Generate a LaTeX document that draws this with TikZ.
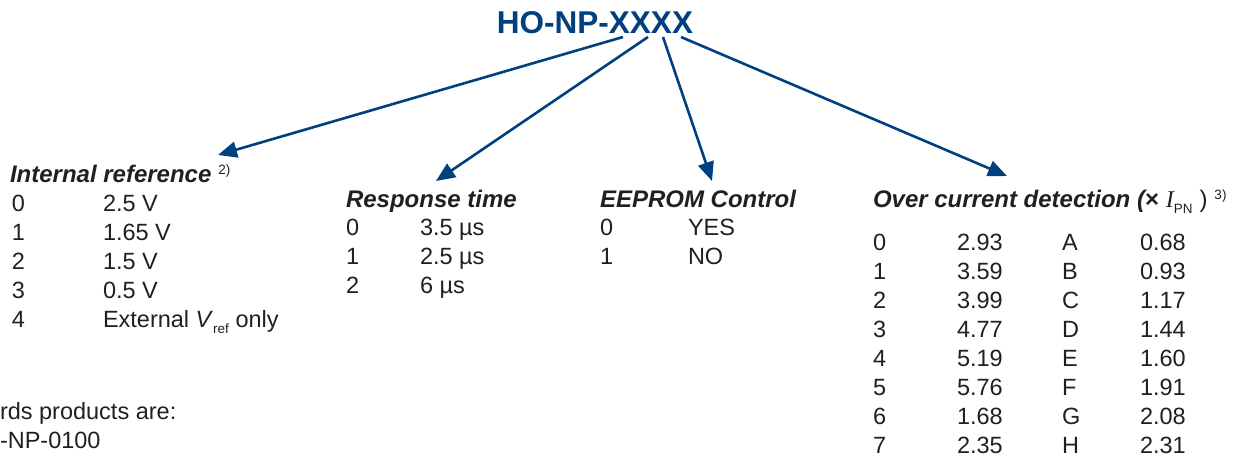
\documentclass[tikz,border=0pt]{standalone}
\usepackage{fontspec}
\setmainfont{Liberation Sans}
\newfontfamily\serifI{Liberation Serif}
\usetikzlibrary{arrows.meta}
\definecolor{lemblue}{HTML}{00407F}
\definecolor{txt}{HTML}{231F20}
\tikzset{
  t/.style={anchor=base west, inner sep=0pt, outer sep=0pt, text=txt, font=\fontsize{23.5}{27}\selectfont},
  hd/.style={t, font=\fontsize{24}{27}\selectfont\bfseries\itshape},
  conn/.style={draw=lemblue, line width=2.6pt, -{Triangle[length=19pt, width=16pt]}},
}
\newcommand{\supnote}[1]{\raisebox{8pt}{\fontsize{13.5}{15}\selectfont\mdseries\upshape #1}}
\newcommand{\subnote}[1]{\raisebox{-6pt}{\fontsize{13.5}{15}\selectfont\mdseries\upshape #1}}
\begin{document}
\begin{tikzpicture}[x=1pt, y=-1pt]
\useasboundingbox (0,0) rectangle (1239,458);
% title
\node[anchor=base, inner sep=0pt, text=lemblue, font=\fontsize{31.5}{36}\selectfont\bfseries] (title) at (595,33) {HO-NP-XXXX};
\coordinate (s1) at (623,37);
\coordinate (s2) at (648,37);
\coordinate (s3) at (663,37);
\coordinate (s4) at (681,37);
\coordinate (e1) at (218,155);
\coordinate (e2) at (436,181);
\coordinate (e3) at (712,181);
\coordinate (e4) at (1007,176);
\draw[conn] (s1) -- (e1);
\draw[conn] (s2) -- (e2);
\draw[conn] (s3) -- (e3);
\draw[conn] (s4) -- (e4);
% Internal reference
\node[hd] (irh) at (10,182) {Internal reference\hspace{7pt}\supnote{2)}};
\node[t] (ir0a) at (12,211) {0}; \node[t] (ir0b) at (103,211) {2.5 V};
\node[t] (ir1a) at (12,240) {1}; \node[t] (ir1b) at (103,240) {1.65 V};
\node[t] (ir2a) at (12,269) {2}; \node[t] (ir2b) at (103,269) {1.5 V};
\node[t] (ir3a) at (12,298) {3}; \node[t] (ir3b) at (103,298) {0.5 V};
\node[t] (ir4a) at (12,327) {4}; \node[t] (ir4b) at (103,327) {External \textit{V}\subnote{ref} only};
% Response time
\node[hd] (rth) at (346,207) {Response time};
\node[t] (rt0a) at (346,235) {0}; \node[t] (rt0b) at (420,235) {3.5 µs};
\node[t] (rt1a) at (346,264) {1}; \node[t] (rt1b) at (420,264) {2.5 µs};
\node[t] (rt2a) at (346,293) {2}; \node[t] (rt2b) at (420,293) {6 µs};
% EEPROM
\node[hd] (eeh) at (600,207) {EEPROM Control};
\node[t] (ee0a) at (600,235) {0}; \node[t] (ee0b) at (688,235) {YES};
\node[t] (ee1a) at (600,264) {1}; \node[t] (ee1b) at (688,264) {NO};
% Over current
\node[hd] (och) at (873,207) {Over current detection (\textbf{\upshape ×} {\mdseries\serifI\itshape I}\subnote{PN}\hspace{7pt}{\mdseries\upshape )}\hspace{7pt}\supnote{3)}};
\foreach \n/\a/\l/\b [count=\i from 0] in {0/2.93/A/0.68,1/3.59/B/0.93,2/3.99/C/1.17,3/4.77/D/1.44,4/5.19/E/1.60,5/5.76/F/1.91,6/1.68/G/2.08,7/2.35/H/2.31}{
  \node[t] (oc\i n) at (873,250+29*\i) {\n};
  \node[t] (oc\i a) at (957,250+29*\i) {\a};
  \node[t] (oc\i l) at (1062,250+29*\i) {\l};
  \node[t] (oc\i b) at (1140,250+29*\i) {\b};
}
% bottom-left (cropped) text
\node[t] (std1) at (0,419) {rds products are:};
\node[t] (std2) at (0,448) {-NP-0100};
\end{tikzpicture}
\end{document}
